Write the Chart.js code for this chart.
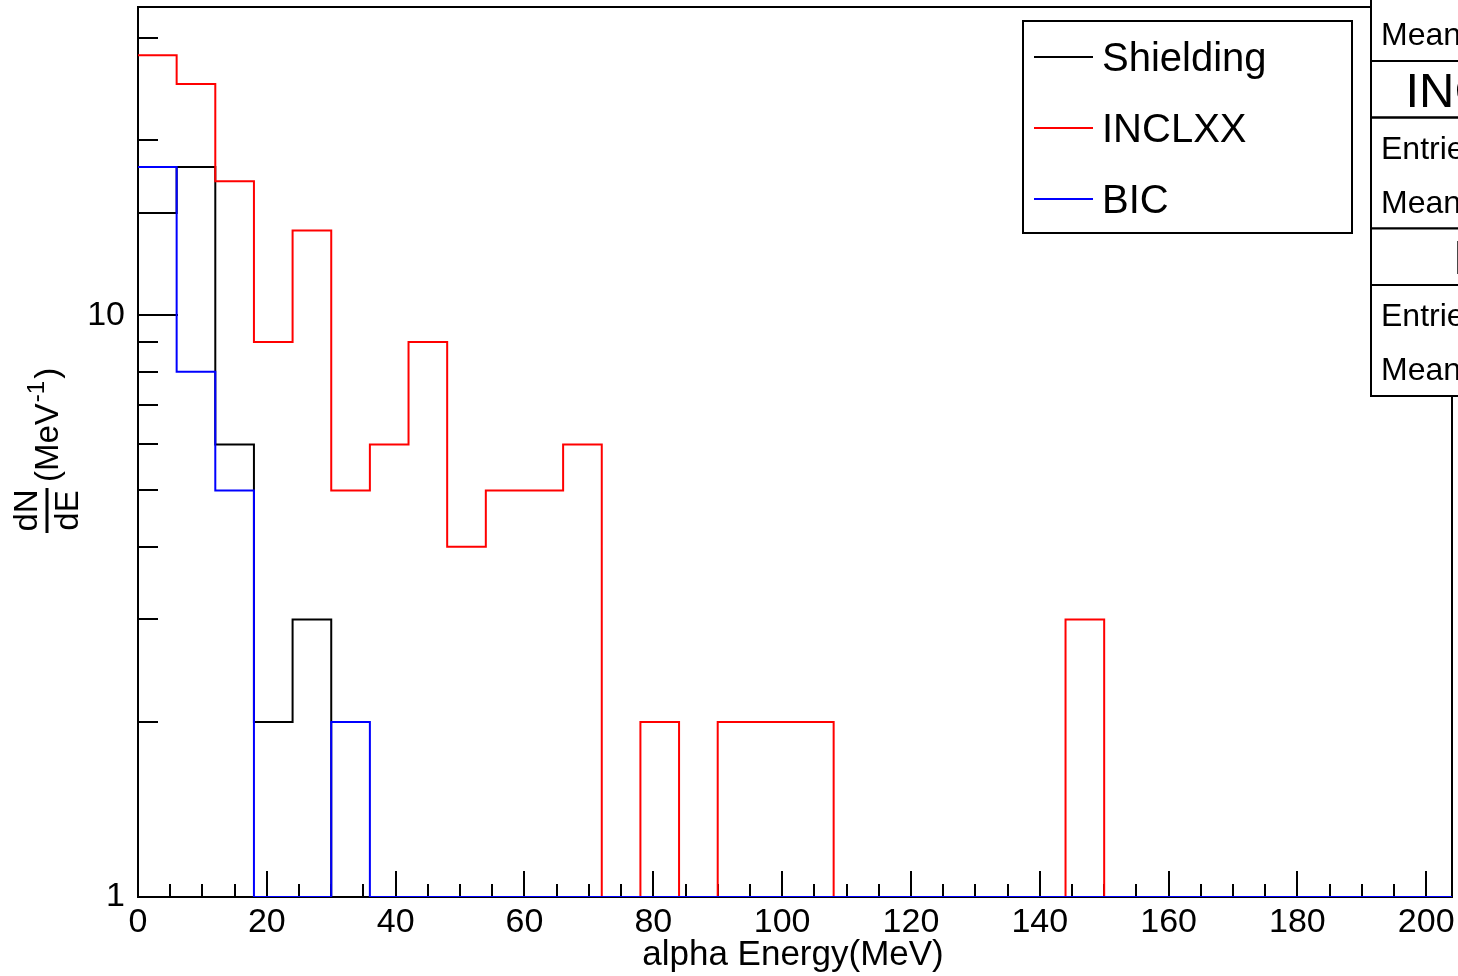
<!DOCTYPE html>
<html>
<head>
<meta charset="utf-8">
<script src="https://cdn.jsdelivr.net/npm/chart.js@4.4.1/dist/chart.umd.min.js"></script>
<style>
  html, body { margin: 0; padding: 0; background: #fff; }
  #wrap { width: 1458px; height: 976px; }
</style>
</head>
<body>
<div id="wrap"><canvas id="c" width="1458" height="976"></canvas></div>
<script>
// Bin edges of the alpha energy histograms (MeV), 6 MeV bins
const binEdges = [0, 6, 12, 18, 24, 30, 36, 42, 48, 54, 60, 66, 72, 78, 84, 90, 96, 102,
                  108, 114, 120, 126, 132, 138, 144, 150, 156, 162, 168, 174, 180, 186, 192, 198, 204];

// dN/dE per bin for each physics list
const shielding = [15, 18, 6, 2, 3, 0, 0, 0, 0, 0, 0, 0, 0, 0, 0, 0, 0,
                   0, 0, 0, 0, 0, 0, 0, 0, 0, 0, 0, 0, 0, 0, 0, 0, 0];
const inclxx    = [28, 25, 17, 9, 14, 5, 6, 9, 4, 5, 5, 6, 0, 2, 0, 2, 2,
                   2, 0, 0, 0, 0, 0, 0, 3, 0, 0, 0, 0, 0, 0, 0, 0, 0];
const bic       = [18, 8, 5, 0, 0, 2, 0, 0, 0, 0, 0, 0, 0, 0, 0, 0, 0,
                   0, 0, 0, 0, 0, 0, 0, 0, 0, 0, 0, 0, 0, 0, 0, 0, 0];

const seriesNames = ['Shielding', 'INCLXX', 'BIC'];
const xTickLabels = [0, 20, 40, 60, 80, 100, 120, 140, 160, 180, 200];
const yTickLabels = [1, 10];

const X_MIN = 0, X_MAX = 204;
const Y_MIN = 1, Y_MAX = 33.9;

const FONT = '"Liberation Sans", Arial, Helvetica, sans-serif';

// Step outline of a histogram; empty bins sit on the bottom of the log axis
function outline(values) {
  return binEdges.map((e, i) => ({
    x: e,
    y: Math.max(values[Math.min(i, values.length - 1)], Y_MIN)
  }));
}

function histDataset(label, values, color, order) {
  return {
    label,
    data: outline(values),
    borderColor: color,
    backgroundColor: color,
    borderWidth: 2,
    stepped: 'before',
    pointRadius: 0,
    pointHoverRadius: 0,
    fill: false,
    tension: 0,
    order
  };
}

// Frame plus inward ROOT-style tick marks
const frameTicks = {
  id: 'frameTicks',
  beforeDatasetsDraw(chart) {
    const { ctx, chartArea: a, scales: { x, y } } = chart;
    ctx.save();
    ctx.strokeStyle = '#000';
    ctx.lineWidth = 2;
    ctx.strokeRect(a.left, a.top, a.right - a.left, a.bottom - a.top);
    ctx.beginPath();
    for (let v = x.min; v <= x.max; v += 5) {
      const px = Math.round(x.getPixelForValue(v));
      const len = v % 20 === 0 ? 26 : 13;
      ctx.moveTo(px, a.bottom);
      ctx.lineTo(px, a.bottom - len);
    }
    for (let d = 1; d <= y.max; d *= 10) {
      for (let m = 1; m <= 9; m++) {
        const v = m * d;
        if (v < y.min || v > y.max) continue;
        const py = Math.round(y.getPixelForValue(v));
        const len = m === 1 ? 40 : 20;
        ctx.moveTo(a.left, py);
        ctx.lineTo(a.left + len, py);
      }
    }
    ctx.stroke();
    ctx.restore();
  }
};

// Axis titles, legend and statistics boxes
const decorations = {
  id: 'decorations',
  afterDraw(chart) {
    const { ctx, chartArea: a } = chart;
    ctx.save();
    ctx.fillStyle = '#000';

    // x title
    ctx.font = `35px ${FONT}`;
    ctx.textAlign = 'center';
    ctx.textBaseline = 'alphabetic';
    ctx.fillText('alpha Energy(MeV)', (a.left + a.right) / 2 - 2, 965);

    // y title: dN/dE (MeV^-1), rotated
    ctx.save();
    ctx.translate(47, 533);
    ctx.rotate(-Math.PI / 2);
    ctx.font = `33px ${FONT}`;
    ctx.textAlign = 'center';
    ctx.fillText('dN', 22.5, -10);
    ctx.fillText('dE', 22.5, 31);
    ctx.fillRect(0, -1.5, 45, 3);
    ctx.textAlign = 'left';
    let u = 51;
    ctx.fillText('(MeV', u, 11);
    u += ctx.measureText('(MeV').width;
    ctx.font = `24px ${FONT}`;
    ctx.fillText('-1', u + 1, -3);
    u += ctx.measureText('-1').width + 3;
    ctx.font = `33px ${FONT}`;
    ctx.fillText(')', u, 11);
    ctx.restore();

    const sets = chart.data.datasets;

    // legend
    const L = { l: 1023, t: 21, r: 1352, b: 233 };
    ctx.fillStyle = '#fff';
    ctx.fillRect(L.l, L.t, L.r - L.l, L.b - L.t);
    ctx.strokeStyle = '#000';
    ctx.lineWidth = 2;
    ctx.strokeRect(L.l, L.t, L.r - L.l, L.b - L.t);
    ctx.font = `40px ${FONT}`;
    ctx.textAlign = 'left';
    sets.forEach((ds, i) => {
      const yy = L.t + 36 + i * 71;
      ctx.strokeStyle = ds.borderColor;
      ctx.beginPath();
      ctx.moveTo(1034, yy);
      ctx.lineTo(1093, yy);
      ctx.stroke();
      ctx.fillStyle = '#000';
      ctx.fillText(ds.label, 1102, yy + 14);
    });

    // statistics boxes stacked at the top right
    const SL = 1371, SW = 246, TH = 56.5, BH = 111;
    let top = 61 - TH - BH;
    sets.forEach(ds => {
      ctx.fillStyle = '#fff';
      ctx.fillRect(SL, top, SW, TH + BH);
      ctx.strokeStyle = '#000';
      ctx.lineWidth = 2;
      ctx.strokeRect(SL, top, SW, TH);
      ctx.strokeRect(SL, top + TH, SW, BH);
      ctx.fillStyle = '#000';
      ctx.font = `49px ${FONT}`;
      ctx.textAlign = 'center';
      ctx.fillText(ds.label, SL + SW / 2, top + TH / 2 + 17.5);
      ctx.font = `32px ${FONT}`;
      ctx.textAlign = 'left';
      ctx.fillText('Entries', SL + 10, top + TH + 41);
      ctx.fillText('Mean', SL + 10, top + TH + 95);
      top += TH + BH;
    });

    ctx.restore();
  }
};

new Chart(document.getElementById('c'), {
  type: 'line',
  data: {
    datasets: [
      histDataset(seriesNames[0], shielding, '#000000', 2),
      histDataset(seriesNames[1], inclxx, '#ff0000', 1),
      histDataset(seriesNames[2], bic, '#0000ff', 0)
    ]
  },
  options: {
    responsive: false,
    animation: false,
    devicePixelRatio: 1,
    layout: { padding: { left: 0, right: 6, top: 7, bottom: 0 } },
    plugins: {
      legend: { display: false },
      tooltip: { enabled: false },
      title: { display: false }
    },
    scales: {
      x: {
        type: 'linear',
        min: X_MIN,
        max: X_MAX,
        grid: { display: false, drawTicks: false },
        border: { display: false },
        afterBuildTicks: s => { s.ticks = xTickLabels.map(v => ({ value: v })); },
        afterFit: s => { s.height = 79; s.paddingLeft = 0; s.paddingRight = 0; },
        ticks: {
          autoSkip: false,
          maxRotation: 0,
          padding: 5,
          color: '#000',
          font: { family: FONT, size: 34 },
          callback: v => String(v)
        }
      },
      y: {
        type: 'logarithmic',
        min: Y_MIN,
        max: Y_MAX,
        grid: { display: false, drawTicks: false },
        border: { display: false },
        afterBuildTicks: s => { s.ticks = yTickLabels.map(v => ({ value: v })); },
        afterFit: s => { s.width = 138; s.paddingTop = 0; s.paddingBottom = 0; },
        ticks: {
          autoSkip: false,
          padding: 13,
          color: '#000',
          font: { family: FONT, size: 34 },
          callback: v => String(v)
        }
      }
    }
  },
  plugins: [frameTicks, decorations]
});
</script>
</body>
</html>
